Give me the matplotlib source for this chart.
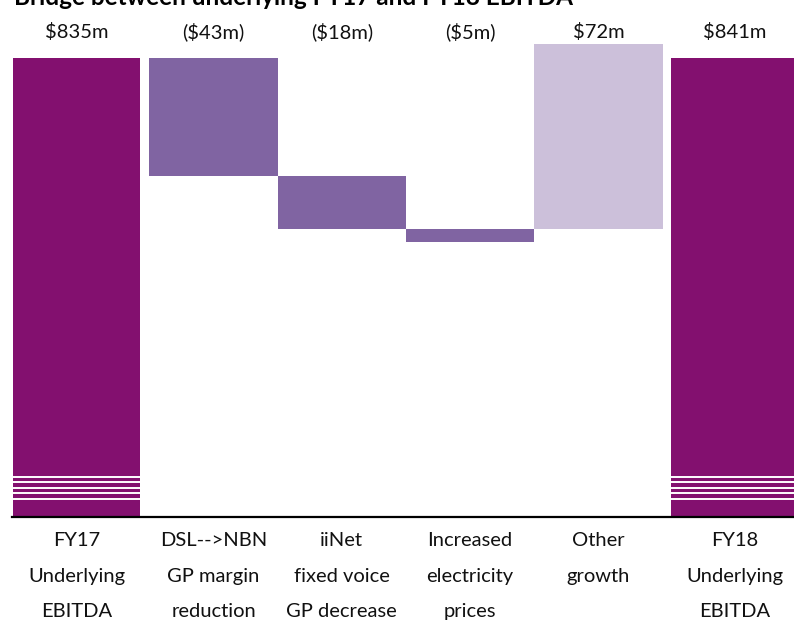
#!/usr/bin/env python3

"""
Waterfall bridge from FY17 to FY18 underlying EBITDA, with a broken
axis under the two total bars.
"""

import numpy as np
import matplotlib.pyplot as plt
from matplotlib import transforms

plt.rcParams['font.family'] = ['Lato', 'DejaVu Sans']

categories = ['FY17\nUnderlying\nEBITDA', 'DSL-->NBN\nGP margin\nreduction',
              'iiNet\nfixed voice\nGP decrease', 'Increased\nelectricity\nprices',
              'Other\ngrowth', 'FY18\nUnderlying\nEBITDA']
values = [835, -43, -18, -5, 72, 841]          # $m, as printed above the bars
bar_top = [835, 835, 792, 773, 840, 835]       # ($m)
bar_bottom = [668, 792, 773, 768, 773, 668]    # 668 = floor of the broken axis
colors = ['#83106F', '#8064A2', '#8064A2', '#8064A2', '#CCC0DA', '#83106F']

W, H = 794, 626
fig = plt.figure(figsize=(W/100, H/100), dpi=100)
ax = fig.add_axes([12/W, (H-517)/H, (W-12)/W, 517/H])

x = np.arange(len(values)).astype(float)
x[0] -= 0.068
x[-1] += 0.065
width = np.array([0.99, 1.0, 1.0, 1.0, 1.0, 0.99])
heights = np.array(bar_top) - np.array(bar_bottom)
ax.bar(x, heights, bottom=bar_bottom, width=width, color=colors, linewidth=0)

# axis-break stripes on the two totals
for i in (0, len(values)-1):
    for yb in [682.6, 680.8, 678.6, 676.8, 674.6]:
        ax.hlines(yb, x[i]-width[i]/2, x[i]+width[i]/2, color='white', lw=1.4)

ax.set_xlim(-0.571, 5.525)
ax.set_ylim(668.1, 856.1)
for s in ['top', 'right', 'left']:
    ax.spines[s].set_visible(False)
ax.spines['bottom'].set_linewidth(1.6)
ax.set_xticks([])
ax.set_yticks([])

def fmt(v):
    return '${}m'.format(v) if v >= 0 else '(${}m)'.format(-v)

top = transforms.blended_transform_factory(ax.transData, fig.transFigure)
for xi, v in zip(x, values):
    ax.text(xi, 1 - 38.5/H, fmt(v), transform=top, ha='center', va='baseline',
            fontsize=14.5, color='#111111')
for xi, c in zip(x, categories):
    ax.text(xi, 1 - 532/H, c, transform=top, ha='center', va='top',
            fontsize=14.5, linespacing=2.33, color='#111111')

fig.text(14/W, 1 - 5/H, 'Bridge between underlying FY17 and FY18 EBITDA',
         fontsize=17.5, fontweight='bold', va='baseline', ha='left')

fig.savefig('out.png', dpi=100)
